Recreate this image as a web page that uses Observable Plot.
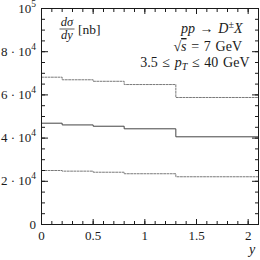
<!DOCTYPE html>
<html>
<head>
<meta charset="utf-8">
<script src="https://cdn.jsdelivr.net/npm/d3@7"></script>
<script src="https://cdn.jsdelivr.net/npm/@observablehq/plot@0.6"></script>
<style>
  html, body { margin: 0; padding: 0; background: white; }
</style>
</head>
<body>
<div id="chart"></div>
<script>
// Bin edges in rapidity y
const binEdges = [0, 0.2, 0.5, 0.8, 1.3, 2.1];
// dσ/dy [nb] for each bin
const upperValues   = [68200, 67000, 66300, 64800, 58800];
const centralValues = [46900, 46100, 45500, 44300, 40600];
const lowerValues   = [25000, 24700, 24200, 23500, 22100];

const xMajorTicks = [0, 0.5, 1, 1.5, 2];
const xTickLabels = ["0", "0.5", "1", "1.5", "2"];
const yMajorTicks = [0, 20000, 40000, 60000, 80000, 100000];
const yTickMantissa = ["0", "2 · 10", "4 · 10", "6 · 10", "8 · 10", "10"];
const yTickExponent = ["", "4", "4", "4", "4", "5"];

function steps(vals) {
  const pts = vals.map((v, i) => ({x: binEdges[i], y: v}));
  pts.push({x: binEdges[binEdges.length - 1], y: vals[vals.length - 1]});
  return pts;
}

const serif = "'Liberation Serif', 'DejaVu Serif', serif";
const ink = "#1a1a1a";
const xMinor = d3.ticks(0, 2.1, 21);
const yMinor = d3.range(0, 100001, 5000);

// y tick labels with real superscripts, positioned by the y scale
const yTickLabelMark = (index, scales, values, dims) => {
  const g = d3.create("svg:g").attr("font-family", serif).attr("fill", ink).attr("font-size", 13);
  yMajorTicks.forEach((v, i) => {
    const t = g.append("text")
      .attr("x", dims.marginLeft - 5)
      .attr("y", scales.y(v) + 4.5)
      .attr("text-anchor", "end");
    t.append("tspan").text(yTickMantissa[i]);
    if (yTickExponent[i]) t.append("tspan").attr("dy", -6).attr("font-size", 9.5).text(yTickExponent[i]);
  });
  return g.node();
};

// rich annotations (fractions, sub/superscripts)
const annotations = (index, scales, values, dims) => {
  const L = dims.marginLeft, T = dims.marginTop, R = dims.width - dims.marginRight;
  const g = d3.create("svg:g").attr("font-family", serif).attr("fill", ink).attr("font-size", 14);
  const line = (x, y, anchor, parts, fs) => {
    const t = g.append("text").attr("x", x).attr("y", y).attr("text-anchor", anchor).attr("word-spacing", 1.2);
    if (fs) t.attr("font-size", fs);
    for (const p of parts) {
      const s = t.append("tspan").text(p.t);
      if (p.i) s.attr("font-style", "italic");
      if (p.dy) s.attr("dy", p.dy);
      if (p.fs) s.attr("font-size", p.fs);
      if (p.over) s.attr("text-decoration", "overline");
    }
    return t;
  };
  // dσ/dy [nb]
  line(L + 26, T + 17.5, "middle", [{t: "dσ", i: true}], 12.5);
  g.append("line").attr("x1", L + 18.5).attr("x2", L + 33.5)
    .attr("y1", T + 21).attr("y2", T + 21).attr("stroke", ink).attr("stroke-width", 0.7);
  line(L + 26, T + 30.5, "middle", [{t: "dy", i: true}], 12.5);
  line(L + 37, T + 26, "start", [{t: "[nb]"}], 13.5);
  // process labels
  line(R - 15.5, T + 24.5, "end", [{t: "pp", i: true}, {t: " → "}, {t: "D", i: true}, {t: "±", dy: -5, fs: 10}, {t: "X", i: true, dy: 5}]);
  line(R - 16, T + 43, "end", [{t: "√"}, {t: "s", i: true, over: true}, {t: " = 7 GeV"}]);
  line(R - 8.5, T + 59, "end", [{t: "3.5 ≤ "}, {t: "p", i: true}, {t: "T", i: true, dy: 3, fs: 10}, {t: " ≤ 40 GeV", dy: -3}]);
  // x-axis title
  line(R - 6, T + 246, "middle", [{t: "y", i: true}]);
  return g.node();
};

const chart = Plot.plot({
  width: 260,
  height: 260,
  marginLeft: 41,
  marginRight: 2,
  marginTop: 8,
  marginBottom: 36,
  style: {fontFamily: serif, fontSize: "13px", background: "white", color: ink},
  x: {domain: [0, 2.1]},
  y: {domain: [0, 100000]},
  marks: [
    Plot.line(steps(upperValues), {x: "x", y: "y", curve: "step-after", stroke: "#7a7a7a", strokeWidth: 1, strokeDasharray: "2,1.3"}),
    Plot.line(steps(centralValues), {x: "x", y: "y", curve: "step-after", stroke: "#454545", strokeWidth: 1}),
    Plot.line(steps(lowerValues), {x: "x", y: "y", curve: "step-after", stroke: "#7a7a7a", strokeWidth: 1, strokeDasharray: "2,1.3"}),
    // x axis labels
    Plot.axisX({ticks: xMajorTicks, tickSize: 0, tickPadding: 6, tickFormat: d => xTickLabels[xMajorTicks.indexOf(d)], label: null, fontSize: 13, fontFamily: serif, fill: ink}),
    // inward ticks, bottom and top
    Plot.axisX({anchor: "bottom", ticks: xMajorTicks, tickSize: -5, tickFormat: () => "", label: null, stroke: ink}),
    Plot.axisX({anchor: "bottom", ticks: xMinor, tickSize: -3, tickFormat: () => "", label: null, stroke: ink}),
    Plot.axisX({anchor: "top", ticks: xMajorTicks, tickSize: -5, tickFormat: () => "", label: null, stroke: ink}),
    Plot.axisX({anchor: "top", ticks: xMinor, tickSize: -3, tickFormat: () => "", label: null, stroke: ink}),
    // inward ticks, left and right
    Plot.axisY({anchor: "left", ticks: yMajorTicks, tickSize: -7, tickFormat: () => "", label: null, stroke: ink}),
    Plot.axisY({anchor: "left", ticks: yMinor, tickSize: -4, tickFormat: () => "", label: null, stroke: ink}),
    Plot.axisY({anchor: "right", ticks: yMajorTicks, tickSize: -7, tickFormat: () => "", label: null, stroke: ink}),
    Plot.axisY({anchor: "right", ticks: yMinor, tickSize: -4, tickFormat: () => "", label: null, stroke: ink}),
    Plot.frame({stroke: ink, strokeWidth: 1}),
    yTickLabelMark,
    annotations
  ]
});
document.getElementById("chart").appendChild(chart);
</script>
</body>
</html>
